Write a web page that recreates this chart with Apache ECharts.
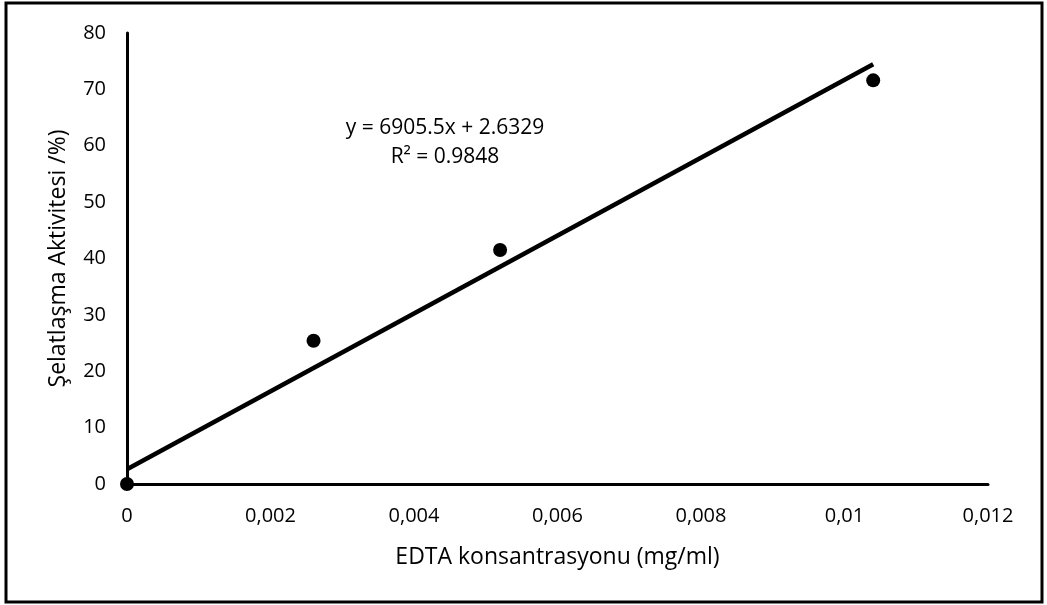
<!DOCTYPE html>
<html>
<head>
<meta charset="utf-8">
<script src="https://cdn.jsdelivr.net/npm/echarts@6/dist/echarts.min.js"></script>
<style>
  html, body { margin: 0; padding: 0; background: #fff; }
  #chart { width: 1047px; height: 605px; }
</style>
</head>
<body>
<div id="chart"></div>
<script>
// measured points (EDTA mg/ml -> chelating activity %)
const concentrations = [0, 0.0026, 0.0052, 0.0104]
const activities = [0, 25.4, 41.5, 71.6]

// linear trendline as drawn in the picture
const trendX = [0, 0.0104]
const trendY = [2.63, 74.45]

const xTickLabels = ['0', '0,002', '0,004', '0,006', '0,008', '0,01', '0,012']
const equationText = 'y = 6905.5x + 2.6329'
const r2Text = 'R² = 0.9848'

const FONT = '"Open Sans", "Noto Sans", sans-serif'

const chart = echarts.init(document.getElementById('chart'))

const option = {
  backgroundColor: '#fff',
  animation: false,
  grid: { left: 127, right: 59, top: 33, bottom: 121 },
  xAxis: {
    type: 'value',
    min: 0,
    max: 0.012,
    interval: 0.002,
    name: 'EDTA konsantrasyonu (mg/ml)',
    nameLocation: 'middle',
    nameGap: 62,
    nameTextStyle: { color: '#000', fontSize: 23, fontFamily: FONT },
    axisLine: { show: true, onZero: false, lineStyle: { color: '#000', width: 3 } },
    axisTick: { show: false },
    splitLine: { show: false },
    axisLabel: {
      color: '#000',
      fontSize: 20,
      fontFamily: FONT,
      margin: 22,
      formatter: v => xTickLabels[Math.round(v / 0.002)] ?? '',
    },
  },
  yAxis: {
    type: 'value',
    min: 0,
    max: 80,
    interval: 10,
    name: 'Şelatlaşma Aktivitesi /%)',
    nameLocation: 'middle',
    nameGap: 57,
    nameTextStyle: { color: '#000', fontSize: 23, fontFamily: FONT },
    axisLine: { show: true, onZero: false, lineStyle: { color: '#000', width: 3 } },
    axisTick: { show: false },
    splitLine: { show: false },
    axisLabel: { color: '#000', fontSize: 20, fontFamily: FONT, margin: 21 },
  },
  series: [
    {
      name: 'trend',
      type: 'line',
      data: trendX.map((x, i) => [x, trendY[i]]),
      showSymbol: false,
      lineStyle: { color: '#000', width: 4.5 },
      z: 2,
    },
    {
      name: 'data',
      type: 'scatter',
      data: concentrations.map((x, i) => [x, activities[i]]),
      symbolSize: 14,
      itemStyle: { color: '#000', opacity: 1 },
      z: 3,
    },
  ],
  graphic: [
    {
      type: 'rect',
      shape: { x: 6, y: 3, width: 1036, height: 599 },
      style: { fill: 'none', stroke: '#000', lineWidth: 3 },
      silent: true,
    },
    {
      type: 'text',
      x: 445,
      y: 128,
      style: {
        text: equationText,
        fill: '#000',
        font: '21px ' + FONT,
        textAlign: 'center',
        textVerticalAlign: 'middle',
      },
    },
    {
      type: 'text',
      x: 445,
      y: 157,
      style: {
        text: r2Text,
        fill: '#000',
        font: '21px ' + FONT,
        textAlign: 'center',
        textVerticalAlign: 'middle',
      },
    },
  ],
}

chart.setOption(option)
</script>
</body>
</html>
